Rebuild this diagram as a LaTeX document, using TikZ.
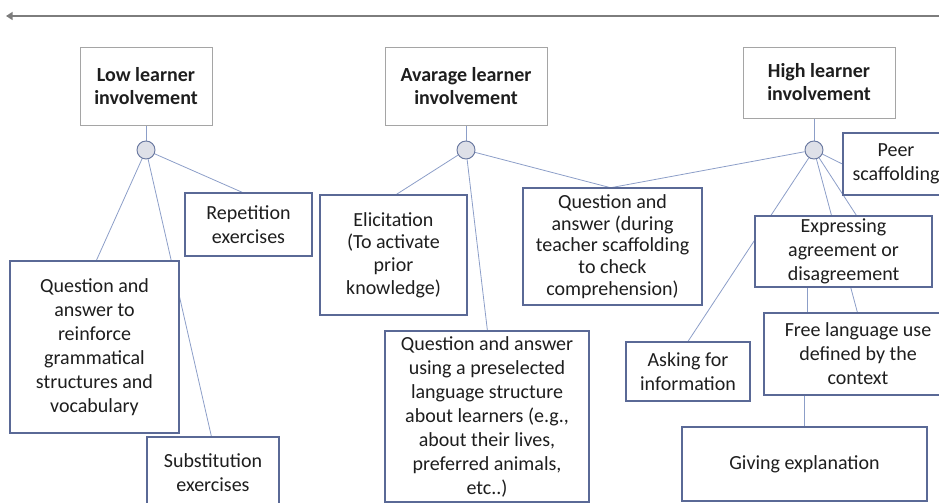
\documentclass[tikz,border=0pt]{standalone}
\usepackage{fontspec}
\setmainfont{Carlito}
\usetikzlibrary{arrows.meta,calc,backgrounds}
\definecolor{cbord}{RGB}{90,105,150}
\definecolor{hbord}{RGB}{165,165,165}
\definecolor{conn}{RGB}{140,158,200}
\definecolor{cfill}{RGB}{222,224,232}
\definecolor{cline}{RGB}{105,120,160}
\definecolor{txt}{RGB}{30,30,30}
\definecolor{arrc}{RGB}{125,125,125}
\begin{document}
\begin{tikzpicture}[x=0.75pt,y=-0.75pt,
 cbox/.style={draw=cbord, line width=0.9pt, fill=white, inner sep=0pt, align=center, text=txt, font=\fontsize{15}{18}\selectfont},
 hbox/.style={draw=hbord, line width=0.5pt, fill=white, inner sep=0pt, align=center, text=txt, font=\fontsize{15}{17.25}\selectfont\bfseries},
 dot/.style={circle, draw=cline, fill=cfill, line width=0.7pt, minimum size=13.5pt, inner sep=0pt},
 link/.style={draw=conn, line width=0.6pt},
]
\useasboundingbox (0,0) rectangle (939,503);
\clip (0,0) rectangle (939,503);

% top arrow
\coordinate (ar) at (940,16);
\coordinate (al) at (6,16);
\draw[arrc, line width=1.6pt, -{Triangle[length=5pt,width=6pt]}] (ar) -- (al);

% headers
\node[hbox, minimum width=99pt, minimum height=58.5pt] (low) at (146,86) {Low learner\\involvement};
\node[hbox, minimum width=121.5pt, minimum height=58.5pt] (avg) at (466,86) {Avarage learner\\involvement};
\node[hbox, minimum width=114pt, minimum height=53.25pt] (high) at (819,82.5) {High learner\\involvement};

\node[dot] (lowc) at (146,150) {};
\node[dot] (avgc) at (466,150) {};
\node[dot] (highc) at (814,150) {};

% children
\node[cbox, minimum width=95.25pt, minimum height=47.25pt] (rep) at (248.5,224.5) {Repetition\\exercises};
\node[cbox, minimum width=126.75pt, minimum height=129pt] (qar) at (94.5,347) {Question and\\answer to\\reinforce\\grammatical\\structures and\\vocabulary};
\node[cbox, minimum width=99pt, minimum height=53.25pt] (sub) at (213,472.5) {Substitution\\exercises};
\node[cbox, minimum width=110.25pt, minimum height=90pt, font=\fontsize{15}{17}\selectfont] (eli) at (393.5,255) {Elicitation\\(To activate\\prior\\knowledge)};
\node[cbox, minimum width=134.25pt, minimum height=87.75pt, font=\fontsize{15}{16.3}\selectfont] (qat) at (612.5,246.5) {Question and\\answer (during\\teacher scaffolding\\to check\\comprehension)};
\node[cbox, minimum width=153pt, minimum height=128.25pt] (qap) at (487,416.5) {Question and answer\\using a preselected\\language structure\\about learners (e.g.,\\about their lives,\\preferred animals,\\etc..)};
\node[cbox, minimum width=79.5pt, minimum height=46.5pt] (peer) at (896,164) {Peer\\scaffolding};
\node[cbox, minimum width=132.75pt, minimum height=53.25pt] (exp) at (843.5,251.5) {Expressing\\agreement or\\disagreement};
\node[cbox, minimum width=93pt, minimum height=44.25pt] (ask) at (688,371.5) {Asking for\\information};
\node[cbox, minimum width=141pt, minimum height=61.5pt] (free) at (858,354) {Free language use\\defined by the\\context};
\node[cbox, minimum width=183.75pt, minimum height=55.5pt] (giv) at (804.5,464) {Giving explanation};

\begin{scope}[on background layer]
\draw[link] (lowc) -- (lowc |- low.south);
\draw[link] (avgc) -- (avgc |- avg.south);
\draw[link] (highc) -- (highc |- high.south);
\draw[link] (lowc) -- ($(rep.north west)+(58,0)$);
\draw[link] (lowc) -- ($(qar.north west)+(87,0)$);
\draw[link] (lowc) -- ($(sub.north west)+(65,0)$);
\draw[link] (avgc) -- ($(eli.north west)+(77,0)$);
\draw[link] (avgc) -- ($(qap.north west)+(103,0)$);
\draw[link] (avgc) -- ($(qat.north west)+(87,0)$);
\draw[link] (highc) -- ($(qat.north west)+(90,0)$);
\draw[link] (highc) -- (peer.west);
\draw[link] (highc) -- (ask.north);
\draw[link] (highc) -- ($(exp.north west)+(102,0)$);
\draw[link] (highc) -- ($(free.north west)+(94,0)$);
\draw[link] ($(exp.south west)+(53,0)$) -- ($(free.north west)+(44,0)$);
\draw[link] (giv.north |- free.south) -- (giv.north);
\end{scope}
\end{tikzpicture}
\end{document}
